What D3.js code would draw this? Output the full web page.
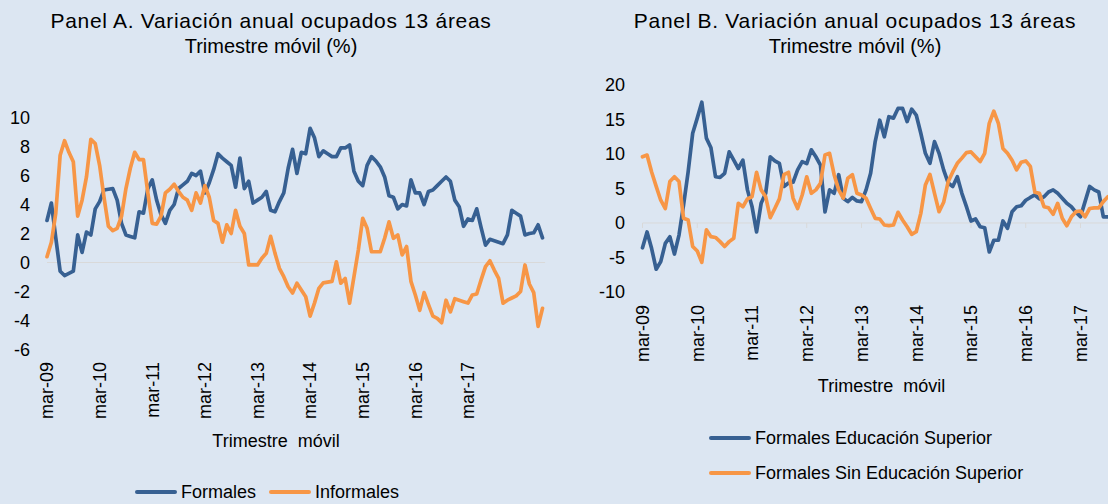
<!DOCTYPE html>
<meta charset="utf-8">
<style>
body { margin: 0; background: #dce6f2; }
svg { display: block; font-family: "Liberation Sans", Arial, sans-serif; }
.tick-label { font-size: 18px; fill: #000; }
.title { font-size: 20px; fill: #000; text-anchor: middle; }
.title.wide { font-size: 21px; letter-spacing: 0.7px; }
.zero { stroke: #d9d9d9; stroke-width: 1px; }
.serie { fill: none; stroke-width: 3.7px; stroke-linejoin: round; stroke-linecap: round; }
</style>
<body>
<script src="https://cdnjs.cloudflare.com/ajax/libs/d3/7.8.5/d3.min.js"></script>
<script>
// etiquetas del eje x (una por año, cada 12 trimestres móviles)
var xLabels = ["mar-09","mar-10","mar-11","mar-12","mar-13","mar-14","mar-15","mar-16","mar-17"];
var yTicksA = [-6,-4,-2,0,2,4,6,8,10];
var yTicksB = [-10,-5,0,5,10,15,20];

// Panel A: variación anual (%) mar-09 .. ago-18
var formales = [2.9,4.1,1.7,-0.6,-0.9,-0.75,-0.6,1.9,0.7,2.1,1.9,3.7,4.2,5.0,5.05,5.1,4.3,2.7,1.9,1.8,
  1.7,3.5,3.4,5.1,5.7,4.3,3.3,2.7,3.6,4.0,5.1,5.35,5.6,6.15,6.0,6.3,4.8,5.5,6.4,7.5,
  7.2,6.95,6.7,5.2,7.2,5.1,5.6,4.1,4.3,4.5,4.9,3.6,3.5,4.2,4.8,6.5,7.8,6.15,7.6,7.5,
  9.25,8.6,7.3,7.7,7.5,7.3,7.3,7.9,7.9,8.1,6.3,5.6,5.3,6.7,7.3,7.0,6.6,5.9,4.6,4.5,
  3.7,4.0,3.9,5.7,4.8,4.8,4.0,4.9,5.0,5.3,5.6,5.9,5.6,4.3,3.85,2.5,3.0,2.9,3.7,2.4,
  1.2,1.6,1.5,1.4,1.3,1.9,3.6,3.4,3.2,1.9,2.0,2.05,2.6,1.7];
var informales = [0.4,1.4,3.4,7.4,8.4,7.6,6.95,3.2,4.3,5.9,8.5,8.2,6.7,4.5,2.5,2.2,2.35,3.2,5.1,6.5,
  7.6,7.1,7.1,4.8,2.7,2.65,3.2,4.8,5.05,5.4,4.9,4.5,4.3,3.6,4.8,4.1,5.3,4.5,2.9,2.7,
  1.4,2.6,2.0,3.6,2.5,2.0,-0.17,-0.17,-0.17,0.3,0.63,1.8,0.63,-0.4,-0.98,-1.67,-2.1,-1.43,-1.9,-2.36,
  -3.7,-2.8,-1.78,-1.4,-1.35,-1.3,0.05,-1.43,-1.1,-2.8,-0.98,0.86,3.05,2.36,0.74,0.74,0.74,1.67,2.8,1.67,
  1.9,0.52,1.1,-1.3,-2.24,-3.3,-2.08,-2.9,-3.7,-3.85,-4.15,-2.6,-3.4,-2.5,-2.6,-2.7,-2.8,-2.24,-2.17,-1.2,
  -0.29,0.12,-0.52,-1.1,-2.8,-2.6,-2.45,-2.3,-2.0,-0.17,-1.48,-2.08,-4.4,-3.16];

// Panel B: formales según educación (la imagen se corta hacia sep-17)
var conSuperior = [-3.6,-1.3,-3.7,-6.7,-5.6,-2.95,-2.0,-4.5,-1.75,2.6,7.4,13.0,15.2,17.5,12.3,10.9,6.7,6.6,7.2,10.3,
  9.1,7.9,9.1,4.8,2.4,-1.3,2.85,4.3,9.6,9.0,8.65,5.3,5.8,5.9,7.7,8.9,8.6,10.6,9.6,8.4,
  1.6,4.8,4.3,7.0,3.6,3.1,3.7,3.2,3.1,4.8,7.2,11.8,14.9,12.5,15.4,15.2,16.6,16.6,14.7,16.5,
  15.65,13.0,10.1,8.65,11.8,10.1,7.7,5.8,5.3,6.7,4.3,2.36,0.29,0.58,-0.54,-0.68,-4.2,-2.5,-2.5,0.29,
  -0.77,1.64,2.36,2.5,3.3,3.7,4.06,3.5,3.8,4.5,4.8,4.3,3.6,2.85,2.36,1.55,0.9,3.1,5.3,4.8,
  4.5,0.9,0.9];
var sinSuperior = [9.6,9.85,7.4,5.3,3.3,2.1,6.0,6.7,6.0,0.7,0.43,-3.4,-4.06,-5.7,-1.0,-1.98,-2.1,-2.7,-3.4,-2.7,
  -2.2,2.85,2.36,3.5,3.8,7.35,4.8,3.8,0.77,2.1,3.5,7.0,7.35,3.6,2.1,4.06,6.7,4.3,4.8,5.75,
  9.85,10.1,7.0,4.8,3.6,6.5,7.0,4.3,4.06,3.6,2.1,0.68,0.58,-0.29,-0.39,-0.29,1.55,0.43,-0.54,-1.64,
  -1.26,1.4,5.5,7.05,4.3,1.64,3.0,6.0,7.4,8.65,9.4,10.2,10.3,9.6,8.9,10.1,14.45,16.2,14.45,10.8,
  10.1,9.1,7.7,8.8,9.0,8.2,4.45,4.3,2.36,2.2,1.26,2.85,0.68,-0.39,0.9,1.64,1.74,0.9,2.1,2.2,
  2.2,3.1,3.8];

var nMeses = 114;
var azul = "#376092", naranja = "#f79646";

var svg = d3.select("body").append("svg").attr("width", 1108).attr("height", 504);

function panel(cfg) {
  var g = svg.append("g");
  var x = d3.scaleLinear().domain([0, nMeses - 1]).range(cfg.xRange);
  var y = d3.scaleLinear().domain(cfg.yDomain).range(cfg.yRange);

  // titulo
  g.append("text").attr("class", "title wide").attr("x", cfg.titleX).attr("y", 28).text(cfg.title1);
  g.append("text").attr("class", "title").attr("x", cfg.titleX).attr("y", 53).text(cfg.title2);

  // eje y (solo etiquetas)
  g.selectAll(".ylab").data(cfg.yTicks).enter().append("text")
    .attr("class", "tick-label")
    .attr("x", cfg.yLabelX).attr("y", function(d) { return y(d); })
    .attr("dy", "0.35em").attr("text-anchor", "end")
    .text(function(d) { return d; });

  // linea del cero
  g.append("line").attr("class", "zero")
    .attr("x1", x(0)).attr("x2", x(cfg.zeroEnd))
    .attr("y1", y(0)).attr("y2", y(0));
  if (cfg.ticks) {
    g.selectAll(".tk").data(xLabels).enter().append("line").attr("class", "zero")
      .attr("x1", function(d, i) { return x(i * 12); })
      .attr("x2", function(d, i) { return x(i * 12); })
      .attr("y1", y(0)).attr("y2", y(0) + 5);
  }

  // etiquetas x rotadas
  g.selectAll(".xlab").data(xLabels).enter().append("text")
    .attr("class", "tick-label")
    .attr("text-anchor", "end")
    .attr("dy", "0.35em")
    .attr("transform", function(d, i) { return "translate(" + x(i * 12) + "," + cfg.xLabelTop + ") rotate(-90)"; })
    .text(function(d) { return d; });

  g.append("text").attr("class", "tick-label").attr("text-anchor", "middle")
    .attr("x", cfg.axisTitleX).attr("y", cfg.axisTitleY)
    .style("white-space", "pre")
    .text("Trimestre  móvil");

  var line = d3.line().x(function(d, i) { return x(i); }).y(function(d) { return y(d); });
  cfg.series.forEach(function(s) {
    g.append("path").attr("class", "serie").attr("stroke", s.color).attr("d", line(s.values));
  });

  // leyenda
  cfg.legend.forEach(function(l) {
    g.append("line").attr("x1", l.x).attr("x2", l.x + 38).attr("y1", l.y).attr("y2", l.y)
      .attr("stroke", l.color).attr("stroke-width", 4).attr("stroke-linecap", "round");
    g.append("text").attr("class", "tick-label").attr("x", l.x + 44).attr("y", l.y).attr("dy", "0.35em").text(l.name);
  });
}

panel({
  xRange: [47, 542.5], yDomain: [-6, 10], yRange: [349.5, 117.5], yTicks: yTicksA, yLabelX: 30,
  titleX: 271, title1: "Panel A. Variación anual ocupados 13 áreas", title2: "Trimestre móvil (%)",
  zeroEnd: 113.6, ticks: false, xLabelTop: 362, axisTitleX: 276, axisTitleY: 447,
  series: [{values: formales, color: azul}, {values: informales, color: naranja}],
  legend: [{x: 137, y: 492, color: azul, name: "Formales"}, {x: 271, y: 492, color: naranja, name: "Informales"}]
});

panel({
  xRange: [642.5, 642.5 + 113 * 4.5625], yDomain: [-10, 20], yRange: [292, 85], yTicks: yTicksB, yLabelX: 625,
  titleX: 855, title1: "Panel B. Variación anual ocupados 13 áreas", title2: "Trimestre móvil (%)",
  zeroEnd: 113, ticks: true, xLabelTop: 305, axisTitleX: 881.5, axisTitleY: 392,
  series: [{values: conSuperior, color: azul}, {values: sinSuperior, color: naranja}],
  legend: [{x: 711, y: 438, color: azul, name: "Formales Educación Superior"},
           {x: 711, y: 473, color: naranja, name: "Formales Sin Educación Superior"}]
});
</script>
</body>
